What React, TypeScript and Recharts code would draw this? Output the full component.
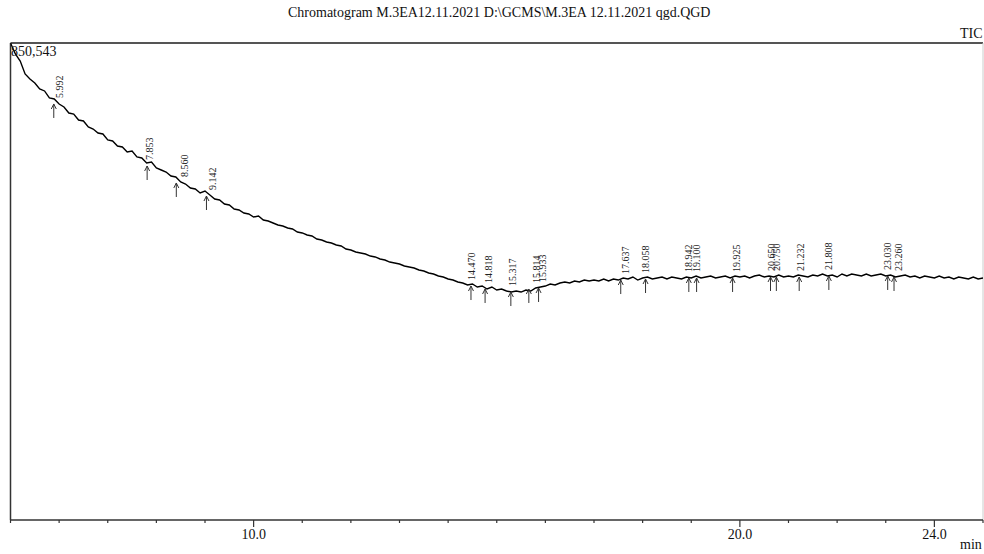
import { ComposedChart, Line, Scatter, XAxis, YAxis, ReferenceLine } from "recharts";

// page has an 8px body margin by default
document.body.style.margin = "0";

const FONT = "'Liberation Serif', 'Times New Roman', serif";

// retention time (min)
const scanTimes = [
  5.0, 5.1, 5.2, 5.3, 5.4, 5.5, 5.6, 5.7, 5.8, 5.9,
  6.0, 6.1, 6.2, 6.3, 6.4, 6.5, 6.6, 6.7, 6.8, 6.9,
  7.0, 7.1, 7.2, 7.3, 7.4, 7.5, 7.6, 7.7, 7.8, 7.9,
  8.0, 8.1, 8.2, 8.3, 8.4, 8.5, 8.6, 8.7, 8.8, 8.9,
  9.0, 9.1, 9.2, 9.3, 9.4, 9.5, 9.6, 9.7, 9.8, 9.9,
  10.0, 10.1, 10.2, 10.3, 10.4, 10.5, 10.6, 10.7, 10.8, 10.9,
  11.0, 11.1, 11.2, 11.3, 11.4, 11.5, 11.6, 11.7, 11.8, 11.9,
  12.0, 12.1, 12.2, 12.3, 12.4, 12.5, 12.6, 12.7, 12.8, 12.9,
  13.0, 13.1, 13.2, 13.3, 13.4, 13.5, 13.6, 13.7, 13.8, 13.9,
  14.0, 14.1, 14.2, 14.3, 14.4, 14.5, 14.6, 14.7, 14.8, 14.9,
  15.0, 15.1, 15.2, 15.3, 15.4, 15.5, 15.6, 15.7, 15.8, 15.9,
  16.0, 16.1, 16.2, 16.3, 16.4, 16.5, 16.6, 16.7, 16.8, 16.9,
  17.0, 17.1, 17.2, 17.3, 17.4, 17.5, 17.6, 17.7, 17.8, 17.9,
  18.0, 18.1, 18.2, 18.3, 18.4, 18.5, 18.6, 18.7, 18.8, 18.9,
  19.0, 19.1, 19.2, 19.3, 19.4, 19.5, 19.6, 19.7, 19.8, 19.9,
  20.0, 20.1, 20.2, 20.3, 20.4, 20.5, 20.6, 20.7, 20.8, 20.9,
  21.0, 21.1, 21.2, 21.3, 21.4, 21.5, 21.6, 21.7, 21.8, 21.9,
  22.0, 22.1, 22.2, 22.3, 22.4, 22.5, 22.6, 22.7, 22.8, 22.9,
  23.0, 23.1, 23.2, 23.3, 23.4, 23.5, 23.6, 23.7, 23.8, 23.9,
  24.0, 24.1, 24.2, 24.3, 24.4, 24.5, 24.6, 24.7, 24.8, 24.9,
  25.0,
];

// TIC intensity
const ticCounts = [
  850543, 830900, 818400, 795300, 786300, 779200, 768500, 765000, 752500, 750700,
  741800, 736400, 725700, 723900, 713200, 711500, 700800, 697200, 690100, 688300,
  677600, 675800, 666900, 665100, 656200, 658000, 647300, 645500, 636600, 638400,
  627700, 624100, 620500, 613400, 611600, 602700, 599100, 592000, 590200, 583100,
  586600, 579500, 572400, 570600, 563500, 561700, 554500, 552800, 547400, 545600,
  540300, 542100, 534900, 533100, 529600, 526000, 524200, 520700, 518900, 513500,
  511800, 508200, 506400, 501100, 499300, 495700, 493900, 490400, 488600, 483200,
  481400, 477900, 476100, 474300, 470700, 469000, 465400, 463600, 460000, 458300,
  456500, 452900, 451100, 449300, 445800, 444000, 440400, 438600, 435100, 433300,
  429700, 427900, 424400, 422600, 419000, 420800, 415500, 417200, 411900, 415500,
  410100, 411900, 408300, 406500, 408300, 406500, 410100, 408300, 413700, 415500,
  417200, 420800, 419000, 422600, 424400, 422600, 426200, 424400, 427900, 426200,
  427900, 426200, 429700, 426200, 429700, 427900, 431500, 429700, 433300, 427900,
  431500, 433300, 429700, 431500, 433300, 429700, 433300, 431500, 429700, 433300,
  431500, 435100, 431500, 433300, 435100, 431500, 433300, 435100, 431500, 435100,
  433300, 435100, 431500, 435100, 436900, 433300, 435100, 433300, 436900, 433300,
  435100, 433300, 436900, 435100, 433300, 436900, 435100, 438600, 435100, 436900,
  433300, 438600, 435100, 438600, 436900, 435100, 438600, 435100, 436900, 438600,
  435100, 436900, 433300, 435100, 436900, 433300, 435100, 431500, 435100, 433300,
  431500, 435100, 431500, 433300, 429700, 433300, 431500, 429700, 433300, 429700,
  431500,
];

// integrated peaks: retention time label, start (arrow) and trace level
const peakTimes = [
  5.992, 7.853, 8.56, 9.142, 14.47, 14.818, 15.317, 15.814, 15.933, 17.637,
  18.058, 18.942, 19.1, 19.925, 20.65, 20.75, 21.232, 21.808, 23.03, 23.26,
];
const peakLabels = [
  "5.992", "7.853", "8.560", "9.142", "14.470", "14.818", "15.317", "15.814", "15.933", "17.637",
  "18.058", "18.942", "19.100", "19.925", "20.650", "20.750", "21.232", "21.808", "23.030", "23.260",
];
const peakStarts = [
  5.89, 7.81, 8.41, 9.03, 14.47, 14.76, 15.29, 15.66, 15.86, 17.55,
  18.06, 18.95, 19.11, 19.85, 20.63, 20.75, 21.22, 21.83, 23.04, 23.17,
];
const peakHeights = [
  743600, 633000, 602700, 579500, 419000, 413700, 408300, 413700, 415500, 429700,
  431500, 433300, 433300, 433300, 435100, 435100, 435100, 436900, 436900, 435100,
];

const minuteTicks = [5, 6, 7, 8, 9, 10, 11, 12, 13, 14, 15, 16, 17, 18, 19, 20, 21, 22, 23, 24, 25];
const labelledTicks = [10, 20, 24];
const yMax = 850543;

const rows = scanTimes.map((t, i) => ({ t, v: ticCounts[i] }));
const peakText = peakTimes.map((t, i) => ({ t, v: peakHeights[i], label: peakLabels[i] }));
const peakArrows = peakStarts.map((t, i) => ({ t, v: peakHeights[i] }));

const MinuteTick = (props: any) => {
  const { x, y, payload } = props;
  const major = labelledTicks.includes(payload.value);
  return (
    <g>
      <line x1={x} x2={x} y1={y} y2={y + (major ? 7 : 3)} stroke="#333" strokeWidth={1.2} />
      {major && (
        <text x={x} y={y + 19} textAnchor="middle" fontSize={14} fontFamily={FONT} fill="#111">
          {payload.value.toFixed(1)}
        </text>
      )}
    </g>
  );
};

// up arrow under the trace
const Arrow = (props: any) => {
  const { cx, cy } = props;
  if (cx == null || cy == null) return null;
  const tip = cy + 1;
  return (
    <path
      d={`M${cx},${tip} L${cx},${tip + 14} M${cx - 2.5},${tip + 5} L${cx},${tip} L${cx + 2.5},${tip + 5}`}
      stroke="#333"
      strokeWidth={1}
      fill="none"
    />
  );
};

// vertical retention time above the trace
const RtLabel = (props: any) => {
  const { cx, cy, payload } = props;
  if (cx == null || cy == null) return null;
  const x = cx + 4;
  const y = cy - 5;
  return (
    <text x={x} y={y} transform={`rotate(-90 ${x} ${y})`} fontSize={10} fontFamily={FONT} fill="#222">
      {payload.label}
    </text>
  );
};

export default function App() {
  return (
    <div style={{ position: "relative", width: 984, height: 554, background: "#fff", overflow: "hidden" }}>
      <ComposedChart
        width={984}
        height={554}
        data={rows}
        margin={{ top: 43, right: 1, bottom: 0, left: 10.5 }}
      >
        <XAxis
          xAxisId="b"
          type="number"
          dataKey="t"
          domain={[5, 25]}
          ticks={minuteTicks}
          interval={0}
          tick={<MinuteTick />}
          tickLine={false}
          tickSize={0}
          tickMargin={0}
          height={34}
          axisLine={{ stroke: "#333", strokeWidth: 1.5 }}
          allowDataOverflow
        />
        <YAxis yAxisId="l" type="number" domain={[0, yMax]} width={0} hide allowDataOverflow />
        {/* frame */}
        <ReferenceLine xAxisId="b" yAxisId="l" y={yMax} stroke="#555" strokeWidth={1.8} />
        <ReferenceLine xAxisId="b" yAxisId="l" x={5} stroke="#333" strokeWidth={1.5} />
        <ReferenceLine xAxisId="b" yAxisId="l" x={25} stroke="#ccc" strokeWidth={1} />
        <Line
          xAxisId="b"
          yAxisId="l"
          type="linear"
          dataKey="v"
          stroke="#000"
          strokeWidth={1.4}
          dot={false}
          isAnimationActive={false}
        />
        <Scatter
          xAxisId="b"
          yAxisId="l"
          data={peakArrows}
          dataKey="v"
          shape={(p: any) => <Arrow {...p} />}
          isAnimationActive={false}
        />
        <Scatter
          xAxisId="b"
          yAxisId="l"
          data={peakText}
          dataKey="v"
          shape={(p: any) => <RtLabel {...p} />}
          isAnimationActive={false}
        />
      </ComposedChart>
      <svg
        width={984}
        height={554}
        style={{ position: "absolute", left: 0, top: 0, pointerEvents: "none" }}
      >
        <text x={288} y={17} fontSize={14} fontFamily={FONT} fill="#111">
          Chromatogram M.3EA12.11.2021 D:\GCMS\M.3EA 12.11.2021 qgd.QGD
        </text>
        <text x={960} y={38} fontSize={14} fontFamily={FONT} fill="#111">TIC</text>
        <text x={11} y={56} fontSize={14} fontFamily={FONT} fill="#111">850,543</text>
        <text x={960} y={549} fontSize={14} fontFamily={FONT} fill="#111">min</text>
      </svg>
    </div>
  );
}
